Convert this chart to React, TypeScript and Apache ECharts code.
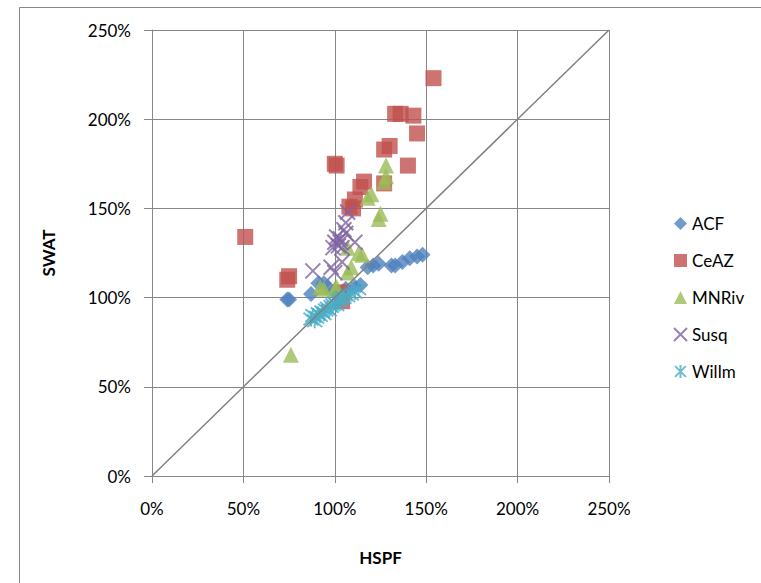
import React, { useEffect, useRef } from "react";
import * as echarts from "echarts";

const xTickLabels = ["0%", "50%", "100%", "150%", "200%", "250%"];
const seriesNames = ["ACF", "CeAZ", "MNRiv", "Susq", "Willm"];
const seriesColors = ["#4F81BD", "#C0504D", "#9BBB59", "#8064A2", "#4BACC6"];

const acf = [
  [74, 99], [75, 99], [87, 102], [91, 108], [94, 108], [96, 106], [100, 104], [106, 105],
  [111, 106], [114, 107], [118, 117], [121, 118], [124, 119], [131, 118], [133, 118],
  [137, 120], [141, 122], [145, 123], [148, 124],
];
const ceaz = [
  [51, 134], [74, 110], [75, 112], [100, 175], [101, 174], [103, 103], [104, 98],
  [108, 151], [110, 150], [111, 155], [114, 162], [116, 165], [127, 164], [127, 183],
  [130, 185], [133, 203], [136, 203], [140, 174], [143, 202], [145, 192], [154, 223],
];
const mnriv = [
  [76, 68], [92, 106], [94, 105], [100, 105], [101, 106], [107, 128], [107, 114],
  [109, 117], [113, 125], [115, 124], [118, 156], [120, 158], [124, 144], [125, 147],
  [127, 165], [128, 174], [128, 168],
];
const susq = [
  [88, 115], [98, 117], [100, 114], [99, 128], [100, 131], [101, 134], [103, 131],
  [104, 128], [104, 120], [105, 138], [106, 142], [106, 136], [107, 148], [111, 131],
  [102, 129], [103, 133],
];
const willm = [
  [87, 88], [88, 90], [89, 87], [90, 89], [91, 91], [92, 90], [93, 92], [94, 91],
  [95, 93], [96, 94], [97, 93], [98, 95], [99, 96], [100, 97], [101, 96], [102, 98],
  [103, 99], [104, 100], [105, 100], [107, 101], [109, 102], [111, 103], [113, 105],
];
const oneToOne = [[0, 0], [250, 250]];

const FONT = "Lato";

export default function App() {
  const ref = useRef<HTMLDivElement>(null);
  useEffect(() => {
    if (!ref.current) return;
    const chart = echarts.init(ref.current, null, { renderer: "svg" });
    const gray = "#878787";
    const symbols = [
      "diamond",
      "rect",
      "triangle",
      "path://M0,0L10,10M10,0L0,10",
      "path://M0,0L10,10M10,0L0,10M5,-1L5,11",
    ];
    const sizes = [16, 16, 16, 15, 15];
    const datas = [acf, ceaz, mnriv, susq, willm];
    const scatter = seriesNames.map((name, i) => ({
      name,
      type: "scatter",
      data: datas[i],
      symbol: symbols[i],
      symbolSize: sizes[i],
      itemStyle:
        i >= 3
          ? { color: "rgba(0,0,0,0)", borderColor: seriesColors[i], borderWidth: 2 }
          : { color: seriesColors[i] },
      z: 3,
    }));
    chart.setOption({
      animation: false,
      graphic: [
        {
          type: "rect",
          shape: { x: 19.5, y: 7.5, width: 800, height: 700 },
          style: { fill: "none", stroke: "#8a8a8a", lineWidth: 1 },
          silent: true,
        },
      ],
      grid: { left: 152, top: 30, width: 457, height: 446 },
      legend: {
        orient: "vertical",
        left: 668,
        top: 210,
        itemGap: 20,
        itemWidth: 13,
        itemHeight: 13,
        data: seriesNames,
        textStyle: { fontFamily: FONT, fontSize: 17, color: "#000" },
      },
      xAxis: {
        type: "value",
        min: 0,
        max: 250,
        interval: 50,
        name: "HSPF",
        nameLocation: "middle",
        nameGap: 73,
        nameTextStyle: { fontFamily: FONT, fontSize: 17, fontWeight: "bold", color: "#000" },
        axisLine: { lineStyle: { color: gray, width: 1 } },
        axisTick: { show: true, length: 7, lineStyle: { color: gray } },
        axisLabel: {
          formatter: (v: number) => xTickLabels[Math.round(v / 50)],
          fontFamily: FONT,
          fontSize: 17,
          color: "#000",
          margin: 24,
        },
        splitLine: { show: true, lineStyle: { color: gray, width: 1 } },
      },
      yAxis: {
        type: "value",
        min: 0,
        max: 250,
        interval: 50,
        name: "SWAT",
        nameLocation: "middle",
        nameGap: 95,
        nameRotate: 90,
        nameTextStyle: { fontFamily: FONT, fontSize: 17, fontWeight: "bold", color: "#000" },
        axisLine: { show: true, lineStyle: { color: gray, width: 1 } },
        axisTick: { show: true, length: 8, lineStyle: { color: gray } },
        axisLabel: {
          formatter: "{value}%",
          fontFamily: FONT,
          fontSize: 17,
          color: "#000",
          margin: 21,
        },
        splitLine: { show: true, lineStyle: { color: gray, width: 1 } },
      },
      series: [
        ...scatter,
        {
          name: "1:1",
          type: "line",
          data: oneToOne,
          symbol: "none",
          lineStyle: { color: "#808080", width: 1.5 },
          z: 4,
          silent: true,
        },
      ],
    });
    return () => chart.dispose();
  }, []);
  return (
    <div
      ref={ref}
      style={{ position: "absolute", left: 0, top: 0, width: 761, height: 583, background: "#fff" }}
    />
  );
}
